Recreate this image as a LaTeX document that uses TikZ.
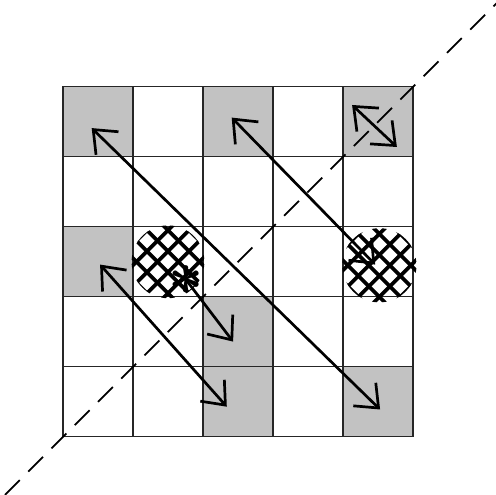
\documentclass[tikz,border=0pt]{standalone}
\usetikzlibrary{arrows.meta}
\tikzset{cell/.style={draw=black!85,line width=0.5pt,minimum size=1cm,inner sep=0pt},
 shaded/.style={fill=black!24,minimum size=1cm,inner sep=0pt},
 barb/.tip={Straight Barb[length=2.8mm,width=4.6mm]},
 arrow/.style={barb-barb,line width=1.1pt},
 onearrow/.style={-barb,line width=1.1pt},
 hatch/.style={line width=1.5pt},
 diag/.style={dash pattern=on 0.3cm off 0.17cm,line width=0.7pt}}

\begin{document}
\begin{tikzpicture}[x=1cm,y=1cm]
 \useasboundingbox (-0.9,-0.83) rectangle (6.186,6.24);
 % grey squares
 \foreach \cc/\rr in {0/4,2/4,4/4,0/2,2/1,2/0,4/0}
  \node[shaded] at (\cc+.5,\rr+.5) {};
 % the board
 \foreach \i in {0,...,24}{
  \pgfmathtruncatemacro{\cc}{mod(\i,5)}
  \pgfmathtruncatemacro{\rr}{floor(\i/5)}
  \node[cell] (c\cc\rr) at (\cc+.5,\rr+.5) {};
 }
 % cross-hatched squares
 \begin{scope}[shift={(c12.center)}]
  \clip (0,0) circle (.52);
  \foreach \d in {-1.05,-.75,...,1.1}{
   \draw[hatch] (\d-1,-1)--(\d+1,1);
   \draw[hatch] (\d-1,1)--(\d+1,-1);
  }
 \end{scope}
 \begin{scope}[shift={(4.52,2.45)}]
  \clip (0,0) circle (.53);
  \foreach \d in {-1.05,-.75,...,1.1}{
   \draw[hatch] (\d-1,-1)--(\d+1,1);
   \draw[hatch] (\d-1,1)--(\d+1,-1);
  }
 \end{scope}
 % diagonal
 \coordinate (dlo) at (-0.83,-0.83);
 \coordinate (dhi) at (6.2,6.2);
 \draw[diag] (dlo)--(dhi);
 % moves
 \coordinate (a1) at (0.41,4.41);
 \coordinate (b1) at (4.53,0.39);
 \coordinate (a2) at (2.41,4.56);
 \coordinate (b2) at (4.46,2.46);
 \coordinate (a3) at (4.13,4.74);
 \coordinate (b3) at (4.77,4.14);
 \coordinate (a4) at (0.53,2.46);
 \coordinate (b4) at (2.34,0.43);
 \coordinate (b5) at (2.43,1.36);
 \node[font=\Huge\boldmath,inner sep=0pt] (star) at (1.76,2.24) {$\ast$};
 \draw[arrow] (a1)--(b1);
 \draw[arrow] (a2)--(b2);
 \draw[arrow] (a3)--(b3);
 \draw[arrow] (a4)--(b4);
 \draw[onearrow] (star.center)--(b5);
\end{tikzpicture}
\end{document}
